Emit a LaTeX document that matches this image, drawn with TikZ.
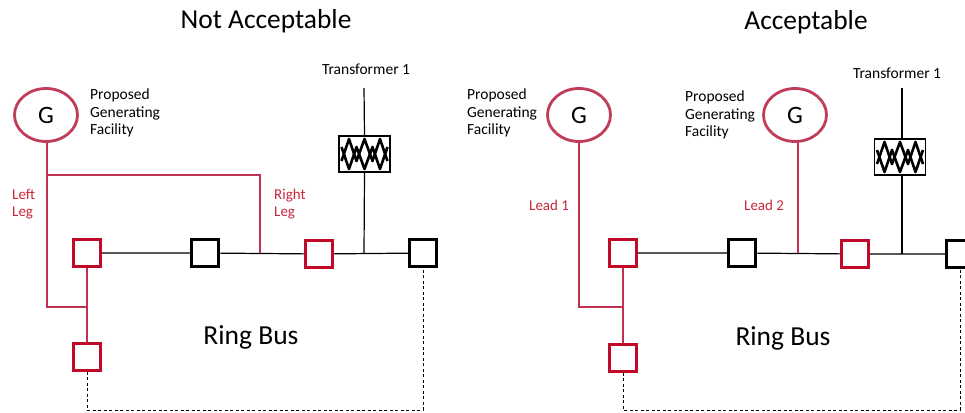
\documentclass[tikz,border=0pt]{standalone}
\usepackage{fontspec}
\setmainfont{Carlito}
\usetikzlibrary{shapes.geometric}
\definecolor{sqred}{RGB}{192,10,40}
\definecolor{ringred}{RGB}{192,60,88}
\definecolor{linered}{RGB}{190,50,80}
\definecolor{txtred}{RGB}{200,40,60}
\begin{document}
\begin{tikzpicture}[x=1pt,y=-1pt,
  sw/.style={draw,line width=2.6pt,minimum size=27pt,inner sep=0pt},
  redsw/.style={sw,draw=sqred},
  blacksw/.style={sw,draw=black},
  gen/.style={ellipse,draw=ringred,line width=2.8pt,minimum width=63pt,minimum height=53pt,inner sep=0pt,font=\fontsize{25}{28}\selectfont},
  xfmr/.style={draw,line width=1.2pt,minimum width=51pt,minimum height=36pt,inner sep=0pt},
  small/.style={font=\fontsize{15.5}{17.5}\selectfont,align=left,inner sep=0pt},
  redlab/.style={small,text=txtred,font=\fontsize{15}{17.5}\selectfont},
  title/.style={font=\fontsize{27.4}{30}\selectfont,inner sep=0pt},
  ringlab/.style={font=\fontsize{27.5}{30}\selectfont,inner sep=0pt},
  zig/.style={line width=2.6pt,line join=round},
  bus/.style={line width=1.2pt,black},
  redlead/.style={line width=1.4pt,linered},
  ring/.style={dashed,line width=1pt,dash pattern=on 3pt off 2.5pt}]
\useasboundingbox (0,0) rectangle (965,412);
\fill[white] (0,0) rectangle (965,412);

% ---------------- Left panel ----------------
\node[title] (tL) at (266,21) {Not Acceptable};
\node[gen] (gL) at (46,115) {G};
\node[small,anchor=west] (pL) at (90,113) {Proposed\\Generating\\Facility};
\node[small] (trL) at (366,69) {Transformer 1};
\coordinate (trLtop) at (364,88);
\node[xfmr] (xL) at (364.5,154) {};
\draw[zig] ([shift={(-23,7)}]xL.center) -- ++(7.5,-22) -- ++(7.5,22) -- ++(8,-22) -- ++(8,22) -- ++(7.5,-22) -- ++(7.5,22);
\draw[zig] ([shift={(-23,-7)}]xL.center) -- ++(7.5,22) -- ++(7.5,-22) -- ++(8,22) -- ++(8,-22) -- ++(7.5,22) -- ++(7.5,-22);

\node[redsw] (a1) at (87,253) {};
\node[blacksw] (a2) at (205,253) {};
\node[redsw] (a3) at (319,254) {};
\node[blacksw] (a4) at (423,253) {};
\node[redsw] (a5) at (87,357) {};
\node[ringlab] (rbL) at (251,337) {Ring Bus};
\node[redlab,anchor=west] (llL) at (12,204) {Left\\Leg};
\node[redlab,anchor=west] (rlL) at (274,204) {Right\\Leg};

\draw[bus] (a1) -- (a2) -- (a3) -- (a4);
\draw[bus] (trLtop) -- (xL.north);
\coordinate (tjL) at (364,253);
\draw[bus] (xL.south) -- (tjL);
\draw[redlead] (a1) -- (a5);
\coordinate (ljL) at (87,307);
\coordinate (rjL) at (260,253);
\coordinate (brL) at (47,175);
\draw[redlead] (gL.south -| brL) -- (brL |- ljL) -- (ljL);
\draw[redlead] (brL) -- (brL -| rjL) -- (rjL);
\coordinate (dL) at (87,410);
\draw[ring] (a5.south) -- (dL) -| (a4.south);

% ---------------- Right panel ----------------
\node[title] (tR) at (806,22) {Acceptable};
\node[gen] (gR1) at (579,115) {G};
\node[small,anchor=west] (pR1) at (467,113) {Proposed\\Generating\\Facility};
\node[gen] (gR2) at (795,115) {G};
\node[small,anchor=west] (pR2) at (685,115) {Proposed\\Generating\\Facility};
\node[small] (trR) at (897,73) {Transformer 1};
\coordinate (trRtop) at (902,88);
\node[xfmr] (xR) at (900,157) {};
\draw[zig] ([shift={(-23,7)}]xR.center) -- ++(7.5,-22) -- ++(7.5,22) -- ++(8,-22) -- ++(8,22) -- ++(7.5,-22) -- ++(7.5,22);
\draw[zig] ([shift={(-23,-7)}]xR.center) -- ++(7.5,22) -- ++(7.5,-22) -- ++(8,22) -- ++(8,-22) -- ++(7.5,22) -- ++(7.5,-22);

\node[redsw] (b1) at (623,253) {};
\node[blacksw] (b2) at (742,253) {};
\node[redsw] (b3) at (855,254) {};
\node[blacksw] (b4) at (960,254) {};
\node[redsw] (b5) at (623,358) {};
\node[ringlab] (rbR) at (783,338) {Ring Bus};
\node[redlab,anchor=west] (l1) at (529,205) {Lead 1};
\node[redlab,anchor=west] (l2) at (744,205) {Lead 2};

\draw[bus] (b1) -- (b2) -- (b3) -- (b4);
\coordinate (tjR) at (902,254);
\draw[bus] (trRtop) -- (trRtop |- xR.north);
\draw[bus] (trRtop |- xR.south) -- (tjR);
\draw[redlead] (b1) -- (b5);
\coordinate (ljR) at (623,307);
\draw[redlead] (gR1.south) -- (gR1.south |- ljR) -- (ljR);
\coordinate (l2j) at (798,253);
\draw[redlead] (gR2.south -| l2j) -- (l2j);
\coordinate (dR) at (623,410);
\draw[ring] (b5.south) -- (dR) -| (b4.south);
\end{tikzpicture}
\end{document}
